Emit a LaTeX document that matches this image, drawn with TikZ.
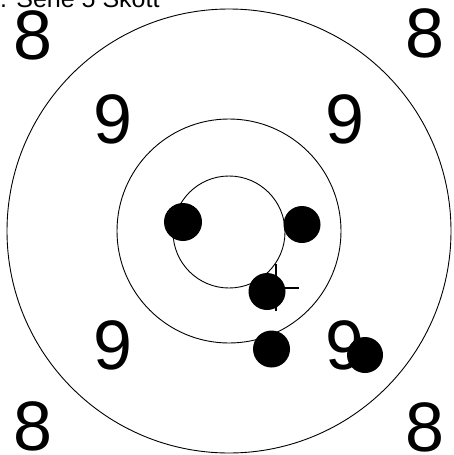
\documentclass[tikz,border=0pt]{standalone}
\usepackage{fontspec}
\setmainfont{Liberation Sans}
\begin{document}
\begin{tikzpicture}[x=1pt,y=-1pt,
  ring/.style={draw=black,line width=0.9pt},
  digit/.style={inner sep=0pt,font=\fontsize{70}{70}\selectfont},
  shot/.style={fill=black},
  crossline/.style={draw=black,line width=1.8pt}]
\useasboundingbox (0,0) rectangle (454,455);
\clip (0,0) rectangle (454,455);
% rings
\draw[ring] (229,231) circle (222);
\draw[ring] (229,231) circle (112);
\draw[ring] (229,232) circle (56);
% title
\node[anchor=base west,inner sep=0pt,font=\fontsize{25}{25}\selectfont] (title) at (0,7) {. Serie 5 Skott};
% ring numbers
\node[digit] (e1) at (33,35) {8};
\node[digit] (e2) at (425,33) {8};
\node[digit] (e3) at (33,426) {8};
\node[digit] (e4) at (425,427) {8};
\node[digit] (n1) at (113,119) {9};
\node[digit] (n2) at (345,119) {9};
\node[digit] (n3) at (113,345) {9};
\node[digit] (n4) at (345,345) {9};
% centre cross
\coordinate (cc) at (276,288);
\draw[crossline] ([yshift=-23pt]cc) -- ([yshift=24pt]cc);
\draw[crossline] ([xshift=-23pt]cc) -- ([xshift=23pt]cc);
% shots
\fill[shot] (183,222) circle (19);
\fill[shot] (302,224.5) circle (18.5);
\fill[shot] (267,291.5) circle (18.5);
\fill[shot] (271.5,349) circle (18.5);
\fill[shot] (365,355) circle (18);
\end{tikzpicture}
\end{document}
